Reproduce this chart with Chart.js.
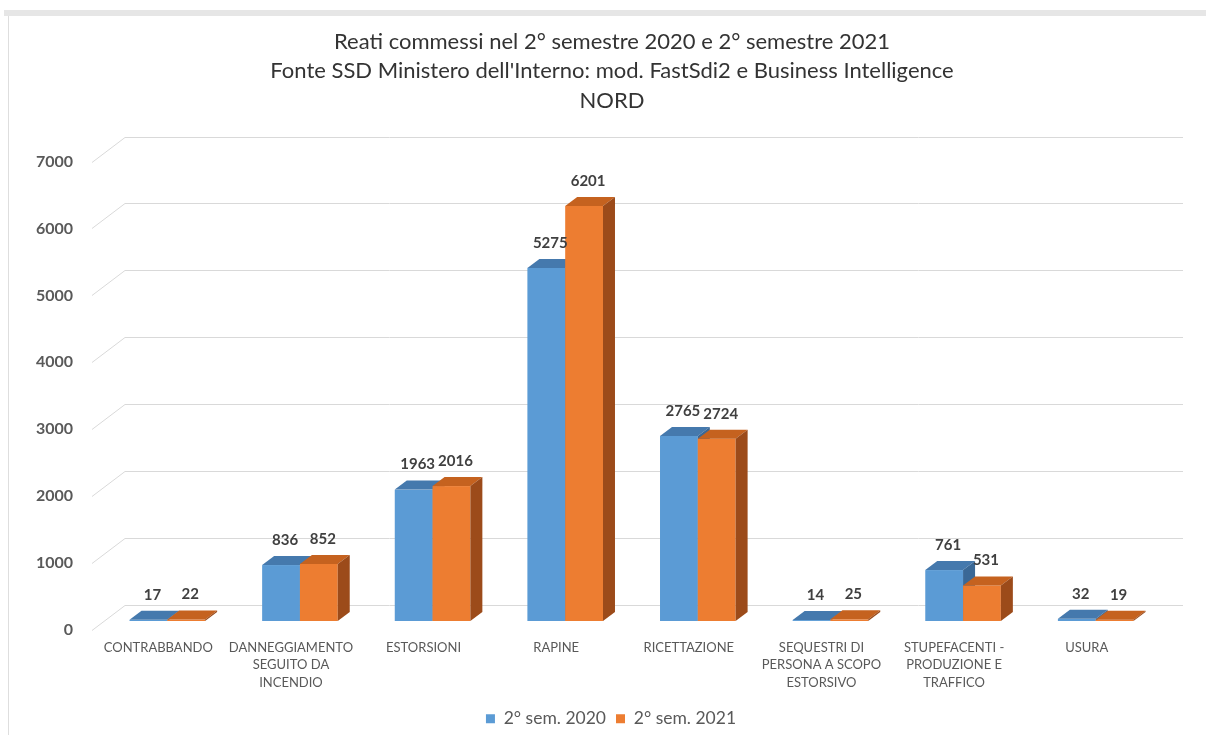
<!DOCTYPE html>
<html lang="it">
<head>
<meta charset="utf-8">
<title>Reati commessi - NORD</title>
<script src="https://cdn.jsdelivr.net/npm/chart.js@4.4.1/dist/chart.umd.min.js"></script>
<style>
  html, body { margin: 0; padding: 0; background: #fff; }
  #wrap { position: relative; width: 1206px; height: 735px; overflow: hidden; }
  #frameTop { position: absolute; left: 4px; top: 10px; right: 0; height: 6px; background: #e6e6e6; }
  #frameLeft { position: absolute; left: 8px; top: 16px; bottom: 0; width: 1px; background: #dedede; }
  canvas { position: absolute; left: 0; top: 0; }
</style>
</head>
<body>
<div id="wrap">
  <div id="frameTop"></div>
  <div id="frameLeft"></div>
  <canvas id="chart" width="1206" height="735"></canvas>
</div>
<script>
// ── Data ─────────────────────────────────────────────────────────
const CATEGORIES = [
  ['CONTRABBANDO'],
  ['DANNEGGIAMENTO', 'SEGUITO DA', 'INCENDIO'],
  ['ESTORSIONI'],
  ['RAPINE'],
  ['RICETTAZIONE'],
  ['SEQUESTRI DI', 'PERSONA A SCOPO', 'ESTORSIVO'],
  ['STUPEFACENTI -', 'PRODUZIONE E', 'TRAFFICO'],
  ['USURA']
];
const SEM_2020 = [17, 836, 1963, 5275, 2765, 14, 761, 32];
const SEM_2021 = [22, 852, 2016, 6201, 2724, 25, 531, 19];
const SERIES_NAMES = ['2° sem. 2020', '2° sem. 2021'];
const TITLE_LINES = [
  'Reati commessi nel 2° semestre 2020 e 2° semestre 2021',
  "Fonte SSD Ministero dell'Interno: mod. FastSdi2 e Business Intelligence",
  'NORD'
];
const Y_MIN = 0;
const Y_MAX = 7000;
const Y_STEP = 1000;

// ── Style ────────────────────────────────────────────────────────
const FONT = "Lato, 'Open Sans', sans-serif";
const TEXT_GREY = '#595959';
const FACES = [
  { front: '#5b9bd5', top: '#4579ad', side: '#3a6896' },
  { front: '#ed7d31', top: '#c5621f', side: '#9c4b1a' }
];
const DEPTH_X = 12, DEPTH_Y = -9;      // bar depth
const WALL_X = 33, WALL_Y = -25;       // floor / back wall depth

// ── 3D bars + back wall ─────────────────────────────────────────
const bars3d = {
  id: 'bars3d',
  beforeDatasetsDraw(chart) {
    const { ctx, chartArea, scales } = chart;
    const ys = scales.y;

    // back wall grid lines with the diagonal on the side wall
    ctx.save();
    ctx.strokeStyle = '#d9d9d9';
    ctx.lineWidth = 1;
    ys.ticks.forEach(t => {
      const yf = Math.round(ys.getPixelForValue(t.value) + 9) + 0.5;
      const x0 = chartArea.left - 9;
      ctx.beginPath();
      ctx.moveTo(x0, yf);
      ctx.lineTo(x0 + WALL_X, yf + WALL_Y);
      ctx.lineTo(chartArea.right + 21, yf + WALL_Y);
      ctx.stroke();
    });

    const metas = [chart.getDatasetMeta(0), chart.getDatasetMeta(1)];
    for (let i = 0; i < CATEGORIES.length; i++) {
      metas.forEach((meta, d) => {
        const el = meta.data[i];
        const { x, y, base, width } = el.getProps(['x', 'y', 'base', 'width'], true);
        const l = x - width / 2, r = x + width / 2;
        const c = FACES[d];

        ctx.fillStyle = c.front;
        ctx.fillRect(l, y, width, base - y);

        ctx.fillStyle = c.top;
        ctx.beginPath();
        ctx.moveTo(l, y);
        ctx.lineTo(r, y);
        ctx.lineTo(r + DEPTH_X, y + DEPTH_Y);
        ctx.lineTo(l + DEPTH_X, y + DEPTH_Y);
        ctx.closePath();
        ctx.fill();

        ctx.fillStyle = c.side;
        ctx.beginPath();
        ctx.moveTo(r, y);
        ctx.lineTo(r + DEPTH_X, y + DEPTH_Y);
        ctx.lineTo(r + DEPTH_X, base + DEPTH_Y);
        ctx.lineTo(r, base);
        ctx.closePath();
        ctx.fill();
      });
    }

    // value labels
    ctx.fillStyle = '#404040';
    ctx.font = 'bold 15px ' + FONT;
    ctx.textAlign = 'center';
    ctx.textBaseline = 'middle';
    metas.forEach((meta, d) => {
      const values = chart.data.datasets[d].data;
      meta.data.forEach((el, i) => {
        const { x, y } = el.getProps(['x', 'y'], true);
        ctx.fillText(String(values[i]), x + 4, y - 25);
      });
    });
    ctx.restore();
    return false;
  }
};

// title and legend sit a little right of the canvas centre in the original
const nudge = {
  id: 'nudge',
  afterLayout(chart) {
    [[chart.titleBlock, 31], [chart.legend, 30]].forEach(([box, dx]) => {
      if (!box) return;
      box.left += dx;
      box.right += dx;
    });
  }
};

// ── Chart ────────────────────────────────────────────────────────
new Chart(document.getElementById('chart'), {
  type: 'bar',
  data: {
    labels: CATEGORIES,
    datasets: [
      { label: SERIES_NAMES[0], data: SEM_2020, backgroundColor: FACES[0].front },
      { label: SERIES_NAMES[1], data: SEM_2021, backgroundColor: FACES[1].front }
    ]
  },
  options: {
    responsive: false,
    animation: false,
    layout: { padding: { top: 27, right: 44, bottom: 0, left: 0 } },
    datasets: { bar: { categoryPercentage: 0.57, barPercentage: 1 } },
    plugins: {
      title: {
        display: true,
        text: TITLE_LINES,
        color: '#333333',
        font: { family: FONT, size: 22, weight: 'normal', lineHeight: '29.5px' },
        padding: { top: 0, bottom: 37 }
      },
      legend: {
        position: 'bottom',
        maxHeight: 35,
        labels: {
          color: TEXT_GREY,
          font: { family: FONT, size: 17.5 },
          boxWidth: 9,
          boxHeight: 9,
          padding: 10
        }
      },
      tooltip: { enabled: false }
    },
    scales: {
      x: {
        grid: { display: false, drawTicks: false },
        border: { display: false },
        ticks: {
          color: TEXT_GREY,
          font: { family: FONT, size: 13, lineHeight: '17.5px' },
          padding: 18,
          labelOffset: -9,
          maxRotation: 0,
          autoSkip: false
        },
        afterFit(scale) { scale.height = 79; }
      },
      y: {
        min: Y_MIN,
        max: Y_MAX,
        grid: { display: false, drawTicks: false },
        border: { display: false },
        ticks: {
          stepSize: Y_STEP,
          color: TEXT_GREY,
          font: { family: FONT, size: 16, weight: 'bold' },
          padding: 28,
          labelOffset: 9,
          callback: v => String(v)
        },
        afterFit(scale) { scale.width = 101; }
      }
    }
  },
  plugins: [bars3d, nudge]
});
</script>
</body>
</html>
